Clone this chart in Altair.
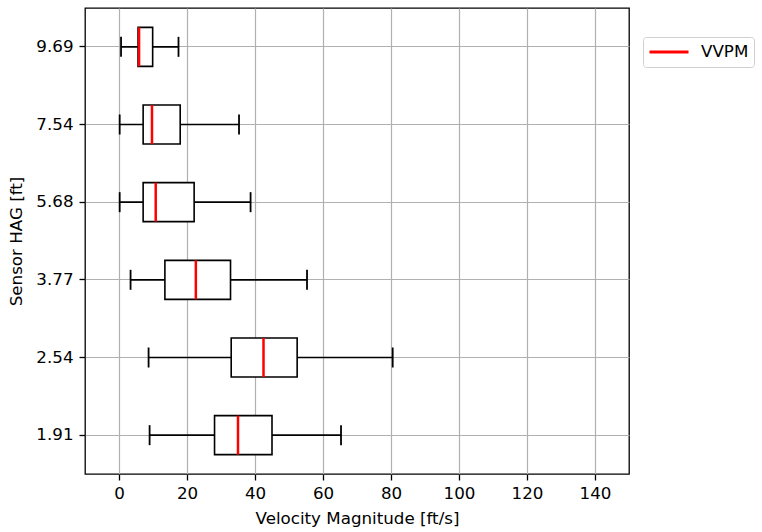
import altair as alt
import pandas as pd

hag = ["9.69", "7.54", "5.68", "3.77", "2.54", "1.91"]
whislo = [0.6, 0.2, 0.2, 3.4, 8.7, 9.0]
q1 = [5.6, 7.1, 7.1, 13.5, 33.0, 28.1]
med = [5.9, 9.7, 10.8, 22.6, 42.5, 35.0]
q3 = [9.9, 18.0, 22.1, 32.8, 52.4, 45.0]
whishi = [17.5, 35.3, 38.7, 55.3, 80.5, 65.3]
x_ticks = [0, 20, 40, 60, 80, 100, 120, 140]
series = "VVPM"

df = pd.DataFrame({
    "hag": hag, "lo": whislo, "q1": q1, "med": med, "q3": q3, "hi": whishi,
    "series": [series] * len(hag),
})

FONT = "DejaVu Sans"
FS = 16.7

xscale = alt.Scale(domain=[-10, 150], nice=False, zero=False)
yscale = alt.Scale(paddingInner=0, paddingOuter=0)

xaxis = alt.Axis(values=x_ticks, title="Velocity Magnitude [ft/s]", grid=True)
yaxis = alt.Axis(title="Sensor HAG [ft]", grid=True)

base = alt.Chart(df).encode(
    y=alt.Y("hag:N", sort=hag, scale=yscale, axis=yaxis)
)

whisk = base.mark_rule(color="black", strokeWidth=1.6, opacity=1).encode(
    x=alt.X("lo:Q", scale=xscale, axis=xaxis), x2="hi:Q"
)
cap_lo = base.mark_tick(color="black", size=20, thickness=1.8, opacity=1).encode(x=alt.X("lo:Q", scale=xscale))
cap_hi = base.mark_tick(color="black", size=20, thickness=1.8, opacity=1).encode(x=alt.X("hi:Q", scale=xscale))
box = base.mark_bar(fill="white", stroke="black", strokeWidth=1.6, height=39, opacity=1).encode(
    x=alt.X("q1:Q", scale=xscale), x2="q3:Q"
)
median = base.mark_tick(size=39, thickness=2.5, opacity=1).encode(
    x=alt.X("med:Q", scale=xscale),
    color=alt.Color(
        "series:N",
        scale=alt.Scale(domain=[series], range=["#ff0000"]),
        legend=alt.Legend(
            title=None, orient="none", legendX=558, legendY=29,
            symbolType="stroke", symbolSize=1521, symbolStrokeWidth=2.8,
            symbolStrokeColor="#ff0000", symbolOpacity=1, clipHeight=20,
            labelFont=FONT, labelFontSize=FS, labelColor="black", labelOffset=11,
            strokeColor="#d0d0d0", cornerRadius=3, fillColor="white",
            padding=5,
        ),
    ),
)

chart = alt.layer(whisk, cap_lo, cap_hi, box, median).properties(
    width=544, height=466,
    autosize=alt.AutoSizeParams(type="none"),
    padding={"left": 85, "top": 8, "right": 133, "bottom": 58},
    background="white",
).configure_view(
    stroke="black", strokeWidth=1.3
).configure_axis(
    domain=False,
    gridColor="#b0b0b0", gridWidth=1.2,
    tickColor="black", tickSize=6, tickWidth=1.3,
    labelFont=FONT, labelFontSize=FS, labelColor="black",
    titleFont=FONT, titleFontSize=FS, titleColor="black", titleFontWeight="normal",
).configure_axisY(
    labelPadding=6, titlePadding=10
).configure_axisX(
    labelPadding=5, titlePadding=9
)

chart.save("out.html", embed_options={"renderer": "svg", "actions": False})
